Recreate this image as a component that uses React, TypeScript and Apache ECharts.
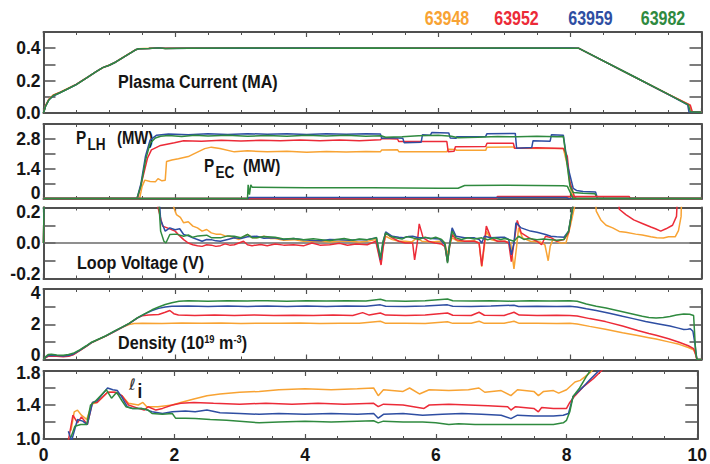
import React, { useEffect, useRef } from "react";
import * as echarts from "echarts";

// ---- shots / colours ----
const shots = ["63948", "63952", "63959", "63982"];
const shotColors = ["#F8A333", "#EC2B38", "#2E4EA2", "#2F8A3F"];

// ---- tick labels ----
const xTickLabels = [0, 2, 4, 6, 8, 10];
const ipTickLabels = [0, 0.2, 0.4];
const pTickLabels = [0, 1.4, 2.8];
const vTickLabels = [-0.2, 0, 0.2];
const neTickLabels = [0, 2, 4];
const liTickLabels = [1.0, 1.4, 1.8];

// ---- Plasma current (MA) ----
const ip63948 = [[0,0],[0.03,0.045],[0.08,0.085],[0.15,0.112],[0.25,0.128],[0.35,0.148],[0.5,0.178],[0.65,0.216],[0.8,0.256],[0.9,0.279],[1.0,0.296],[1.1,0.316],[1.2,0.341],[1.3,0.366],[1.4,0.391],[1.45,0.397],[1.6,0.399],[1.75,0.403],[1.85,0.398],[2.2,0.401],[3,0.4],[4,0.401],[5,0.4],[6,0.4],[7,0.401],[8,0.4],[8.13,0.4],[9.0,0.219],[9.5,0.115],[9.82,0.05],[9.85,0.008],[10,0.006]];
const ip63952 = [[0,0],[0.03,0.042],[0.08,0.083],[0.15,0.11],[0.25,0.127],[0.35,0.146],[0.5,0.177],[0.65,0.215],[0.8,0.255],[0.9,0.28],[1.0,0.295],[1.1,0.315],[1.2,0.34],[1.3,0.365],[1.4,0.39],[1.45,0.396],[1.6,0.398],[1.75,0.402],[1.85,0.399],[2.2,0.4],[3,0.401],[4,0.4],[5,0.4],[6,0.401],[7,0.4],[8,0.4],[8.13,0.4],[9.0,0.218],[9.5,0.114],[9.83,0.048],[9.86,0.008],[10,0.006]];
const ip63959 = [[0,0],[0.03,0.04],[0.08,0.08],[0.15,0.105],[0.25,0.125],[0.35,0.145],[0.5,0.176],[0.65,0.215],[0.8,0.255],[0.9,0.28],[1.0,0.295],[1.1,0.315],[1.2,0.34],[1.3,0.365],[1.4,0.39],[1.45,0.397],[1.6,0.398],[1.75,0.402],[1.85,0.398],[2.2,0.4],[3,0.4],[4,0.401],[5,0.4],[6,0.399],[7,0.4],[8,0.401],[8.13,0.4],[9.0,0.219],[9.5,0.113],[9.79,0.05],[9.81,0.006],[10,0.005]];
const ip63982 = [[0,0],[0.03,0.04],[0.08,0.08],[0.15,0.108],[0.25,0.125],[0.35,0.145],[0.5,0.175],[0.65,0.215],[0.8,0.255],[0.9,0.28],[1.0,0.295],[1.1,0.315],[1.2,0.34],[1.3,0.365],[1.4,0.39],[1.45,0.397],[1.6,0.398],[1.75,0.402],[1.85,0.398],[2.2,0.4],[3,0.401],[4,0.4],[5,0.401],[6,0.399],[7,0.401],[8,0.4],[8.13,0.4],[9.0,0.219],[9.5,0.115],[9.8,0.05],[9.83,0.008],[10,0.005]];

// ---- P_LH (MW) ----
const plh63948 = [[0,0.02],[1.46,0.02],[1.5,0.6],[1.54,0.88],[1.62,0.82],[1.7,0.8],[1.74,0.95],[1.8,0.85],[1.85,0.88],[1.87,1.75],[1.95,1.82],[2.05,1.88],[2.2,1.98],[2.3,2.13],[2.45,2.35],[2.55,2.42],[2.68,2.36],[2.9,2.2],[3.1,2.25],[3.4,2.2],[3.7,2.23],[4.0,2.18],[4.3,2.22],[4.6,2.19],[4.9,2.22],[5.12,2.2],[5.14,2.29],[5.38,2.3],[5.4,2.21],[6.13,2.2],[6.15,2.32],[6.26,2.31],[6.28,2.27],[6.72,2.27],[6.74,2.42],[7.14,2.43],[7.16,2.37],[7.9,2.36],[7.96,1.6],[8.02,0.3],[8.07,0.02],[10,0.02]];
const plh63952 = [[0,0.02],[1.43,0.02],[1.5,0.9],[1.58,1.9],[1.64,2.29],[1.78,2.5],[1.99,2.63],[2.13,2.72],[2.4,2.7],[2.7,2.74],[3.0,2.71],[3.3,2.74],[3.6,2.72],[3.9,2.75],[4.2,2.72],[4.5,2.75],[4.8,2.72],[5.12,2.76],[5.14,2.82],[5.38,2.8],[5.4,2.68],[6.13,2.68],[6.15,2.21],[6.24,2.23],[6.26,2.44],[6.72,2.45],[6.74,2.6],[7.14,2.6],[7.16,2.37],[7.5,2.39],[7.9,2.36],[7.96,2.0],[8.0,0.8],[8.07,0.1],[8.1,0.02],[10,0.02]];
const plh63959 = [[0,0.02],[1.42,0.02],[1.48,0.7],[1.55,2.0],[1.62,2.75],[1.72,2.98],[1.9,3.03],[2.2,3.0],[2.5,3.04],[2.8,3.01],[3.1,3.05],[3.4,3.02],[3.7,3.05],[4.0,3.01],[4.3,3.04],[4.6,3.02],[4.9,3.05],[5.12,3.03],[5.14,2.83],[5.3,2.86],[5.46,2.84],[5.48,2.63],[5.74,2.65],[5.76,3.0],[5.88,2.98],[5.9,3.1],[6.16,3.08],[6.18,2.85],[6.27,2.83],[6.28,2.9],[6.72,2.92],[6.74,3.05],[7.17,3.06],[7.19,2.37],[7.42,2.4],[7.44,2.72],[7.7,2.7],[7.72,3.0],[7.9,2.98],[7.97,1.5],[8.05,0.5],[8.1,0.4],[8.2,0.35],[8.39,0.33],[8.42,0.02],[10,0.02]];
const plh63982 = [[0,0.02],[1.42,0.02],[1.48,0.6],[1.55,1.8],[1.62,2.6],[1.7,2.85],[1.78,2.93],[1.9,2.96],[2.1,2.92],[2.3,2.97],[2.5,2.94],[2.8,2.97],[3.1,2.93],[3.4,2.96],[3.7,2.93],[4.0,2.97],[4.3,2.94],[4.6,2.97],[4.9,2.93],[5.13,2.95],[5.2,2.88],[5.45,2.9],[5.7,2.95],[6.0,2.97],[6.2,2.93],[6.3,2.86],[6.6,2.88],[6.9,2.92],[7.2,2.9],[7.5,2.93],[7.8,2.91],[7.9,2.92],[7.95,1.8],[8.0,0.6],[8.05,0.3],[8.2,0.27],[8.38,0.25],[8.42,0.02],[10,0.02]];

// ---- P_EC (MW) ----
const pec63948 = [[0,0.02],[6.88,0.02],[6.9,0.07],[7.98,0.07],[8.0,0.02],[10,0.02]];
const pec63952 = [[0,0.02],[6.88,0.02],[6.9,0.12],[8.9,0.12],[8.92,0.02],[10,0.02]];
const pec63959 = [[0,0.02],[3.11,0.02],[3.12,0.07],[7.95,0.07],[7.98,0.02],[10,0.02]];
const pec63982 = [[0,0.02],[3.1,0.02],[3.11,0.66],[3.13,0.2],[3.15,0.66],[3.17,0.55],[4.0,0.53],[5.0,0.52],[6.0,0.5],[6.3,0.5],[6.4,0.63],[7.0,0.64],[7.9,0.62],[7.96,0.6],[8.05,0.02],[10,0.02]];

// ---- Loop voltage (V) ----
const vl63948 = [[0,0],[0.02,0.6],[1.92,0.6],[1.98,0.2],[2.02,0.16],[2.08,0.145],[2.13,0.114],[2.2,0.12],[2.27,0.095],[2.34,0.085],[2.41,0.067],[2.48,0.076],[2.55,0.057],[2.62,0.05],[2.69,0.05],[2.76,0.04],[2.83,0.038],[2.9,0.029],[2.97,0.02],[3.04,0.035],[3.1,0.048],[3.17,0.03],[3.24,0.029],[3.35,0.038],[3.45,0.025],[3.52,0.025],[3.65,0.015],[3.8,0.019],[3.95,0.01],[4.1,0.008],[4.22,0.01],[4.35,0.006],[4.5,0.01],[4.65,0.01],[4.8,0.006],[4.92,0.01],[5.05,0.019],[5.13,-0.114],[5.16,-0.02],[5.2,0.038],[5.3,0.019],[5.4,0.01],[5.5,0.01],[5.6,0.006],[5.67,0.029],[5.75,0.01],[5.9,0.006],[6.02,0.01],[6.1,0.0],[6.14,-0.067],[6.18,0.0],[6.21,0.029],[6.3,0.01],[6.4,0.01],[6.55,0.012],[6.62,0.0],[6.66,-0.133],[6.7,-0.02],[6.73,0.067],[6.8,0.019],[6.9,0.01],[7.01,0.01],[7.1,0.0],[7.15,-0.146],[7.19,-0.02],[7.22,0.085],[7.28,0.029],[7.4,0.01],[7.55,0.006],[7.62,-0.01],[7.67,-0.1],[7.7,-0.02],[7.74,0.019],[7.85,0.0],[7.94,0.0],[8.0,0.085],[8.08,0.22],[8.12,0.6],[8.33,0.6],[8.4,0.18],[8.47,0.13],[8.55,0.1],[8.65,0.085],[8.75,0.065],[8.85,0.06],[9.0,0.05],[9.1,0.045],[9.23,0.035],[9.32,0.03],[9.42,0.028],[9.5,0.035],[9.6,0.035],[9.65,0.07],[9.69,0.15],[9.72,0.6],[9.9,0.6]];
const vl63952 = [[0,0],[0.02,0.6],[1.69,0.6],[1.74,0.2],[1.81,0.095],[1.88,0.085],[2.0,0.067],[2.07,0.04],[2.13,0.019],[2.2,0.0],[2.27,-0.01],[2.34,-0.015],[2.41,-0.019],[2.48,-0.01],[2.55,-0.012],[2.62,-0.019],[2.69,-0.015],[2.76,-0.005],[2.83,-0.012],[2.9,-0.01],[2.97,0.0],[3.04,0.01],[3.1,-0.01],[3.17,-0.015],[3.3,-0.008],[3.4,-0.015],[3.52,-0.006],[3.65,-0.012],[3.8,-0.01],[3.95,-0.016],[4.08,0.0],[4.2,-0.012],[4.35,-0.01],[4.5,-0.002],[4.62,-0.013],[4.75,-0.006],[4.92,-0.01],[5.05,0.01],[5.13,-0.124],[5.16,-0.03],[5.2,0.057],[5.3,0.029],[5.4,0.01],[5.5,0.0],[5.61,0.0],[5.64,-0.095],[5.68,0.0],[5.71,0.108],[5.77,0.029],[5.85,0.01],[5.95,0.0],[6.05,-0.006],[6.1,-0.02],[6.14,-0.105],[6.18,0.0],[6.21,0.048],[6.27,0.019],[6.4,0.01],[6.55,0.01],[6.62,0.0],[6.66,-0.129],[6.7,0.0],[6.73,0.095],[6.8,0.029],[6.9,0.01],[7.01,0.01],[7.07,0.0],[7.11,-0.105],[7.15,0.0],[7.2,0.127],[7.26,0.057],[7.38,0.029],[7.5,0.01],[7.57,-0.01],[7.63,0.038],[7.72,0.029],[7.8,0.01],[7.91,0.02],[7.98,0.057],[8.05,0.22],[8.1,0.6],[8.68,0.6],[8.75,0.19],[8.85,0.16],[8.97,0.13],[9.1,0.11],[9.23,0.09],[9.3,0.08],[9.38,0.067],[9.46,0.08],[9.56,0.1],[9.62,0.15],[9.68,0.6],[9.9,0.6]];
const vl63959 = [[0,0],[0.02,0.6],[1.7,0.6],[1.78,0.13],[1.85,0.067],[1.92,0.085],[2.0,0.075],[2.07,0.08],[2.13,0.048],[2.2,0.04],[2.27,0.029],[2.34,0.02],[2.41,0.01],[2.48,0.02],[2.55,0.019],[2.62,0.012],[2.69,0.01],[2.8,0.02],[2.9,0.029],[3.0,0.025],[3.1,0.035],[3.24,0.038],[3.35,0.027],[3.52,0.029],[3.65,0.02],[3.8,0.025],[3.95,0.018],[4.1,0.014],[4.22,0.013],[4.35,0.02],[4.5,0.019],[4.65,0.015],[4.8,0.02],[4.92,0.019],[5.06,0.029],[5.12,-0.095],[5.16,0.0],[5.2,0.063],[5.3,0.038],[5.4,0.032],[5.47,0.03],[5.55,0.036],[5.61,0.038],[5.7,0.03],[5.82,0.029],[5.9,0.025],[6.02,0.022],[6.1,-0.01],[6.14,-0.105],[6.17,-0.01],[6.21,0.085],[6.27,0.038],[6.4,0.03],[6.55,0.029],[6.62,0.02],[6.66,0.0],[6.7,0.038],[6.8,0.03],[6.95,0.033],[7.01,0.032],[7.07,0.02],[7.11,-0.067],[7.15,0.0],[7.18,0.114],[7.26,0.085],[7.4,0.067],[7.5,0.06],[7.63,0.048],[7.71,0.038],[7.8,0.035],[7.91,0.032],[7.98,0.067],[8.05,0.22],[8.1,0.6],[9.9,0.6]];
const vl63982 = [[0,0],[0.02,0.6],[1.69,0.6],[1.78,0.067],[1.83,0.01],[1.86,0.0],[1.92,0.048],[2.02,0.05],[2.13,0.038],[2.2,0.045],[2.27,0.032],[2.35,0.04],[2.48,0.044],[2.55,0.03],[2.69,0.029],[2.8,0.04],[2.9,0.038],[3.0,0.03],[3.1,0.048],[3.17,0.03],[3.24,0.029],[3.35,0.036],[3.52,0.032],[3.65,0.022],[3.8,0.026],[3.95,0.018],[4.1,0.024],[4.22,0.019],[4.35,0.013],[4.45,0.02],[4.57,0.025],[4.7,0.016],[4.8,0.022],[4.92,0.019],[5.02,0.025],[5.06,0.032],[5.12,-0.085],[5.16,0.01],[5.2,0.057],[5.27,0.038],[5.35,0.03],[5.45,0.022],[5.52,0.036],[5.61,0.029],[5.7,0.02],[5.8,0.033],[5.88,0.024],[5.96,0.032],[6.05,0.02],[6.1,0.0],[6.14,-0.114],[6.17,-0.02],[6.21,0.067],[6.27,0.029],[6.35,0.02],[6.45,0.03],[6.55,0.022],[6.66,0.029],[6.75,0.018],[6.85,0.03],[6.95,0.02],[7.01,0.025],[7.08,0.018],[7.15,0.01],[7.22,0.038],[7.3,0.02],[7.38,0.025],[7.5,0.018],[7.6,0.022],[7.71,0.019],[7.8,0.015],[7.91,0.02],[7.98,0.067],[8.05,0.22],[8.1,0.6],[9.9,0.6]];

// ---- Density (10^19 m^-3) ----
const ne63948 = [[0,0],[0.03,0.12],[0.07,0.2],[0.12,0.22],[0.2,0.2],[0.3,0.18],[0.38,0.2],[0.45,0.28],[0.55,0.5],[0.65,0.74],[0.73,0.95],[0.85,1.16],[0.95,1.33],[1.08,1.58],[1.2,1.82],[1.3,1.98],[1.38,2.04],[1.5,2.06],[1.8,2.04],[2.1,2.07],[2.4,2.05],[2.7,2.07],[3.0,2.04],[3.3,2.06],[3.6,2.05],[3.9,2.07],[4.2,2.04],[4.5,2.06],[4.8,2.05],[5.12,2.17],[5.2,2.05],[5.5,2.06],[5.8,2.04],[6.14,2.14],[6.22,2.05],[6.5,2.06],[6.62,2.17],[6.7,2.05],[7.0,2.06],[7.15,2.17],[7.23,2.05],[7.5,2.06],[7.8,2.04],[8.0,2.06],[8.11,2.02],[8.3,1.88],[8.54,1.72],[8.8,1.52],[9.03,1.36],[9.2,1.24],[9.31,1.16],[9.5,1.0],[9.66,0.86],[9.8,0.68],[9.88,0.55],[9.91,0.3],[9.93,0],[10,0]];
const ne63952 = [[0,0],[0.03,0.1],[0.07,0.18],[0.12,0.2],[0.2,0.18],[0.3,0.16],[0.38,0.18],[0.45,0.27],[0.55,0.5],[0.65,0.75],[0.73,0.96],[0.85,1.17],[0.95,1.34],[1.08,1.6],[1.2,1.84],[1.3,2.04],[1.43,2.36],[1.5,2.48],[1.6,2.52],[1.75,2.55],[1.85,2.68],[1.92,2.78],[1.98,2.6],[2.05,2.52],[2.3,2.5],[2.6,2.52],[2.9,2.49],[3.2,2.52],[3.5,2.5],[3.8,2.51],[4.1,2.49],[4.4,2.52],[4.7,2.5],[4.85,2.66],[4.95,2.52],[5.12,2.64],[5.2,2.52],[5.5,2.5],[5.8,2.52],[6.14,2.64],[6.22,2.51],[6.5,2.5],[6.62,2.68],[6.7,2.51],[7.0,2.5],[7.15,2.68],[7.23,2.52],[7.5,2.5],[7.8,2.51],[8.0,2.5],[8.11,2.47],[8.3,2.32],[8.54,2.15],[8.8,1.9],[9.03,1.65],[9.2,1.48],[9.31,1.38],[9.5,1.18],[9.66,0.98],[9.8,0.78],[9.88,0.62],[9.91,0.3],[9.93,0],[10,0]];
const ne63959 = [[0,0],[0.03,0.12],[0.07,0.22],[0.12,0.24],[0.2,0.22],[0.3,0.2],[0.38,0.22],[0.45,0.3],[0.55,0.52],[0.65,0.76],[0.73,0.96],[0.85,1.17],[0.95,1.34],[1.08,1.6],[1.2,1.84],[1.3,2.04],[1.43,2.36],[1.55,2.6],[1.65,2.78],[1.75,2.9],[1.85,2.98],[1.95,3.02],[2.2,3.03],[2.5,3.01],[2.8,3.04],[3.1,3.01],[3.4,3.03],[3.7,3.01],[4.0,3.03],[4.3,3.01],[4.6,3.04],[4.9,3.02],[5.12,3.1],[5.2,3.02],[5.5,3.01],[5.8,3.03],[6.14,3.1],[6.22,3.02],[6.5,3.01],[6.8,3.03],[7.15,3.08],[7.22,3.01],[7.5,3.02],[7.8,3.01],[8.0,3.02],[8.11,2.98],[8.25,2.88],[8.4,2.78],[8.6,2.62],[8.8,2.45],[8.96,2.32],[9.15,2.16],[9.35,2.02],[9.52,1.9],[9.65,1.78],[9.73,1.7],[9.79,1.72],[9.83,1.75],[9.87,1.6],[9.9,0.9],[9.93,0],[10,0]];
const ne63982 = [[0,0],[0.03,0.15],[0.07,0.28],[0.12,0.3],[0.2,0.25],[0.3,0.24],[0.38,0.28],[0.45,0.35],[0.55,0.55],[0.65,0.78],[0.73,0.98],[0.85,1.18],[0.95,1.35],[1.08,1.62],[1.2,1.85],[1.3,2.05],[1.43,2.38],[1.55,2.62],[1.65,2.82],[1.75,2.98],[1.85,3.12],[1.95,3.22],[2.06,3.3],[2.2,3.33],[2.5,3.31],[2.8,3.34],[3.1,3.32],[3.4,3.34],[3.7,3.31],[4.0,3.33],[4.3,3.32],[4.6,3.34],[4.9,3.32],[5.12,3.42],[5.2,3.33],[5.5,3.31],[5.8,3.34],[6.14,3.43],[6.22,3.33],[6.5,3.32],[6.8,3.34],[7.1,3.31],[7.4,3.33],[7.7,3.32],[8.0,3.33],[8.11,3.3],[8.25,3.15],[8.4,3.02],[8.55,2.92],[8.75,2.75],[8.95,2.58],[9.1,2.45],[9.2,2.38],[9.31,2.35],[9.42,2.38],[9.52,2.44],[9.62,2.52],[9.73,2.58],[9.82,2.57],[9.88,2.5],[9.91,0.5],[9.93,0],[10,0]];

// ---- internal inductance li ----
const li63948 = [[0.42,1.1],[0.47,1.32],[0.52,1.34],[0.58,1.28],[0.66,1.23],[0.74,1.41],[0.82,1.43],[0.98,1.55],[1.08,1.55],[1.2,1.51],[1.3,1.42],[1.45,1.4],[1.52,1.43],[1.58,1.38],[1.75,1.38],[1.97,1.4],[2.1,1.43],[2.3,1.47],[2.5,1.51],[2.7,1.53],[3.0,1.55],[3.3,1.56],[3.6,1.58],[4.0,1.59],[4.4,1.58],[4.8,1.59],[5.05,1.6],[5.12,1.51],[5.2,1.58],[5.5,1.56],[5.6,1.6],[5.75,1.53],[5.9,1.58],[6.2,1.57],[6.5,1.58],[6.66,1.6],[6.75,1.55],[7.0,1.57],[7.15,1.51],[7.25,1.58],[7.5,1.56],[7.57,1.51],[7.65,1.56],[7.8,1.57],[7.88,1.54],[8.0,1.58],[8.13,1.67],[8.21,1.69],[8.28,1.73],[8.36,1.78],[8.41,1.82],[8.5,1.9]];
const li63952 = [[0.38,0.98],[0.45,1.28],[0.52,1.19],[0.58,1.26],[0.67,1.17],[0.75,1.43],[0.82,1.43],[0.98,1.55],[1.1,1.55],[1.2,1.51],[1.3,1.4],[1.45,1.36],[1.54,1.34],[1.6,1.38],[1.72,1.34],[1.82,1.36],[1.97,1.4],[2.1,1.42],[2.3,1.43],[2.6,1.42],[3.0,1.41],[3.4,1.42],[3.8,1.41],[4.2,1.42],[4.6,1.41],[5.05,1.42],[5.12,1.38],[5.2,1.41],[5.5,1.4],[5.82,1.36],[5.9,1.4],[6.2,1.41],[6.5,1.4],[6.8,1.39],[7.1,1.38],[7.15,1.34],[7.22,1.38],[7.5,1.36],[7.57,1.32],[7.62,1.37],[7.8,1.36],[8.0,1.36],[8.05,1.43],[8.13,1.51],[8.25,1.61],[8.41,1.71],[8.53,1.8],[8.65,1.9]];
const li63959 = [[0.38,1.09],[0.43,0.98],[0.52,1.23],[0.6,1.21],[0.67,1.17],[0.75,1.43],[0.82,1.45],[0.98,1.6],[1.06,1.58],[1.13,1.57],[1.2,1.49],[1.28,1.38],[1.36,1.36],[1.5,1.36],[1.59,1.34],[1.66,1.32],[1.82,1.3],[1.97,1.32],[2.17,1.33],[2.32,1.32],[2.5,1.34],[2.7,1.31],[3.0,1.3],[3.3,1.29],[3.6,1.3],[4.0,1.29],[4.4,1.3],[4.8,1.29],[5.05,1.3],[5.12,1.245],[5.2,1.29],[5.5,1.3],[5.8,1.28],[6.1,1.29],[6.4,1.3],[6.7,1.29],[7.0,1.28],[7.15,1.24],[7.25,1.28],[7.5,1.27],[7.8,1.27],[7.95,1.28],[8.03,1.3],[8.1,1.5],[8.25,1.61],[8.36,1.7],[8.49,1.8],[8.6,1.9]];
const li63982 = [[0.42,1.02],[0.48,1.15],[0.57,1.17],[0.66,1.17],[0.72,1.4],[0.8,1.45],[0.96,1.58],[1.04,1.48],[1.12,1.55],[1.2,1.45],[1.26,1.38],[1.36,1.36],[1.5,1.36],[1.6,1.34],[1.66,1.3],[1.82,1.29],[1.97,1.3],[2.02,1.245],[2.17,1.245],[2.32,1.24],[2.55,1.23],[2.8,1.22],[3.0,1.21],[3.3,1.19],[3.6,1.2],[4.0,1.21],[4.4,1.2],[4.8,1.21],[5.05,1.215],[5.12,1.19],[5.2,1.21],[5.5,1.2],[5.8,1.2],[6.0,1.19],[6.2,1.17],[6.35,1.18],[6.6,1.17],[6.9,1.17],[7.2,1.17],[7.5,1.17],[7.8,1.17],[7.95,1.19],[8.0,1.22],[8.05,1.32],[8.1,1.5],[8.2,1.6],[8.3,1.73],[8.36,1.8],[8.45,1.9]];

const FONT = "'Liberation Sans', Arial, Helvetica, sans-serif";
const FRAME = "#505050";
const TXT = "#151515";
const SX = 0.85; // horizontal condensing of the bold annotation texts

// label vertical nudges (rich style keys) so stacked edge labels don't collide
const labelBase = { fontFamily: FONT, fontWeight: "bold" as const, fontSize: 17.5, color: TXT, lineHeight: 16 };
const labelRich = {
  n: { ...labelBase },
  u5: { ...labelBase, padding: [0, 0, 10, 0] },
  u6: { ...labelBase, padding: [0, 0, 12, 0] },
  d2: { ...labelBase, padding: [4, 0, 0, 0] },
  d3: { ...labelBase, padding: [6, 0, 0, 0] },
  d4: { ...labelBase, padding: [8, 0, 0, 0] },
};

const panels = [
  { top: 32, height: 81, min: 0, max: 0.5, interval: 0.1, labels: ipTickLabels, nudge: ["n", "n", "n"], fmt: (v: number) => v.toFixed(1), series: [ip63948, ip63952, ip63959, ip63982] },
  { top: 124, height: 75, min: 0, max: 3.5, interval: 0.7, labels: pTickLabels, nudge: ["u6", "n", "n"], fmt: (v: number) => (Math.abs(v) < 1e-9 ? "0" : v.toFixed(1)), series: [plh63948, plh63952, plh63959, plh63982, pec63948, pec63952, pec63959, pec63982] },
  { top: 207.5, height: 71, min: -0.2, max: 0.2, interval: 0.1, labels: vTickLabels, nudge: ["u5", "n", "d4"], fmt: (v: number) => (Math.abs(v) < 1e-9 ? "0.0" : v.toFixed(1)), series: [vl63948, vl63952, vl63959, vl63982] },
  { top: 289, height: 70.5, min: 0, max: 4, interval: 1, labels: neTickLabels, nudge: ["u5", "n", "d4"], fmt: (v: number) => String(Math.round(v)), series: [ne63948, ne63952, ne63959, ne63982] },
  { top: 371, height: 70.5, min: 1.0, max: 1.8, interval: 0.2, labels: liTickLabels, nudge: ["n", "n", "d2"], fmt: (v: number) => v.toFixed(1), series: [li63948, li63952, li63959, li63982] },
];

function buildOption() {
  const grid: any[] = [];
  const xAxis: any[] = [];
  const yAxis: any[] = [];
  const series: any[] = [];
  const lineStyleAxis = { color: FRAME, width: 2 };
  panels.forEach((p, i) => {
    grid.push({ left: 43.5, right: 8.5, top: p.top, height: p.height, containLabel: false });
    ["bottom", "top"].forEach((pos, k) => {
      xAxis.push({
        type: "value", gridIndex: i, min: 0, max: 10, interval: 2, position: pos,
        axisLine: { show: true, onZero: false, lineStyle: lineStyleAxis },
        axisTick: { show: true, inside: true, length: 5, lineStyle: { color: FRAME, width: 1.2 } },
        minorTick: { show: true, splitNumber: 4, length: 3, lineStyle: { color: FRAME, width: 1 } },
        splitLine: { show: false }, minorSplitLine: { show: false },
        axisLabel: {
          show: i === 4 && k === 0, margin: 7, fontFamily: FONT, fontWeight: "bold", fontSize: 17.5, color: TXT,
          showMinLabel: true, showMaxLabel: true,
          formatter: (v: number) => (xTickLabels.some((l) => Math.abs(l - v) < 1e-6) ? String(Math.round(v)) : ""),
        },
      });
    });
    ["left", "right"].forEach((pos, k) => {
      yAxis.push({
        type: "value", gridIndex: i, min: p.min, max: p.max, interval: p.interval, position: pos,
        axisLine: { show: true, onZero: false, lineStyle: lineStyleAxis },
        axisTick: { show: true, inside: true, length: 12, lineStyle: { color: FRAME, width: 1.5 } },
        splitLine: { show: false },
        axisLabel: {
          show: k === 0, margin: 3, ...labelBase,
          showMinLabel: true, showMaxLabel: true,
          rich: labelRich,
          formatter: (v: number) => {
            const idx = p.labels.findIndex((l) => Math.abs(l - v) < 1e-6);
            return idx < 0 ? "" : `{${p.nudge[idx]}|${p.fmt(v)}}`;
          },
        },
      });
    });
    p.series.forEach((d, j) => {
      const s: any = {
        type: "line", name: shots[j % 4], xAxisIndex: 2 * i, yAxisIndex: 2 * i, data: d,
        symbol: "none", showSymbol: false, silent: true, clip: true,
        lineStyle: { width: 1.5, color: shotColors[j % 4] }, itemStyle: { color: shotColors[j % 4] },
      };
      if (i === 2 && j === 0) {
        s.markLine = {
          silent: true, symbol: "none", label: { show: false },
          lineStyle: { color: "#6a6a6a", width: 1.5, type: "solid" },
          data: [{ yAxis: 0 }], z: 1,
        };
      }
      series.push(s);
    });
  });

  const legendX = [447, 516.5, 590.5, 663];
  const graphic: any[] = shots.map((s, j) => ({
    type: "text", x: legendX[j], y: 18.5, scaleX: 0.8, silent: true,
    style: { text: s, fill: shotColors[j], font: `bold 20px ${FONT}`, align: "center", verticalAlign: "middle" },
  }));
  const t = (text: string, x: number, y: number, size: number) => ({
    type: "text", x, y, scaleX: SX, silent: true,
    style: { text, fill: TXT, font: `bold ${size}px ${FONT}`, align: "left", verticalAlign: "middle" },
  });
  graphic.push(t("Plasma Current (MA)", 118, 82, 19));
  graphic.push(t("P", 76, 138, 18));
  graphic.push(t("LH", 87.5, 145, 16));
  graphic.push(t("(MW)", 117, 138, 17.5));
  graphic.push(t("P", 204, 166, 18));
  graphic.push(t("EC", 215.5, 173, 16));
  graphic.push(t("(MW)", 243, 166, 18));
  graphic.push(t("Loop Voltage (V)", 77, 263, 19));
  graphic.push({
    type: "text", x: 118, y: 343, scaleX: SX, silent: true,
    style: {
      text: "{a|Density (10}{s|19}{a| m}{s|-3}{a|)}",
      fill: TXT, align: "left", verticalAlign: "middle",
      rich: {
        a: { fontFamily: FONT, fontWeight: "bold", fontSize: 19, fill: TXT, verticalAlign: "bottom" },
        s: { fontFamily: FONT, fontWeight: "bold", fontSize: 11, fill: TXT, verticalAlign: "top" },
      },
    },
  });
  graphic.push({
    type: "text", x: 129, y: 384, silent: true,
    style: { text: "\u2113", fill: "#333", font: `italic 16px 'DejaVu Sans', sans-serif`, align: "left", verticalAlign: "middle" },
  });
  graphic.push({
    type: "text", x: 137.5, y: 391, scaleX: SX, silent: true,
    style: { text: "i", fill: TXT, font: `bold 20px ${FONT}`, align: "left", verticalAlign: "middle" },
  });

  return { animation: false, backgroundColor: "#ffffff", grid, xAxis, yAxis, series, graphic };
}

export default function App() {
  const ref = useRef<HTMLDivElement>(null);
  useEffect(() => {
    if (!ref.current) return;
    const chart = echarts.init(ref.current, null, { renderer: "svg" });
    chart.setOption(buildOption() as any);
    return () => chart.dispose();
  }, []);
  return (
    <div style={{ position: "fixed", left: 0, top: 0, width: 710, height: 464, background: "#fff" }}>
      <div ref={ref} style={{ width: 710, height: 464 }} />
    </div>
  );
}
